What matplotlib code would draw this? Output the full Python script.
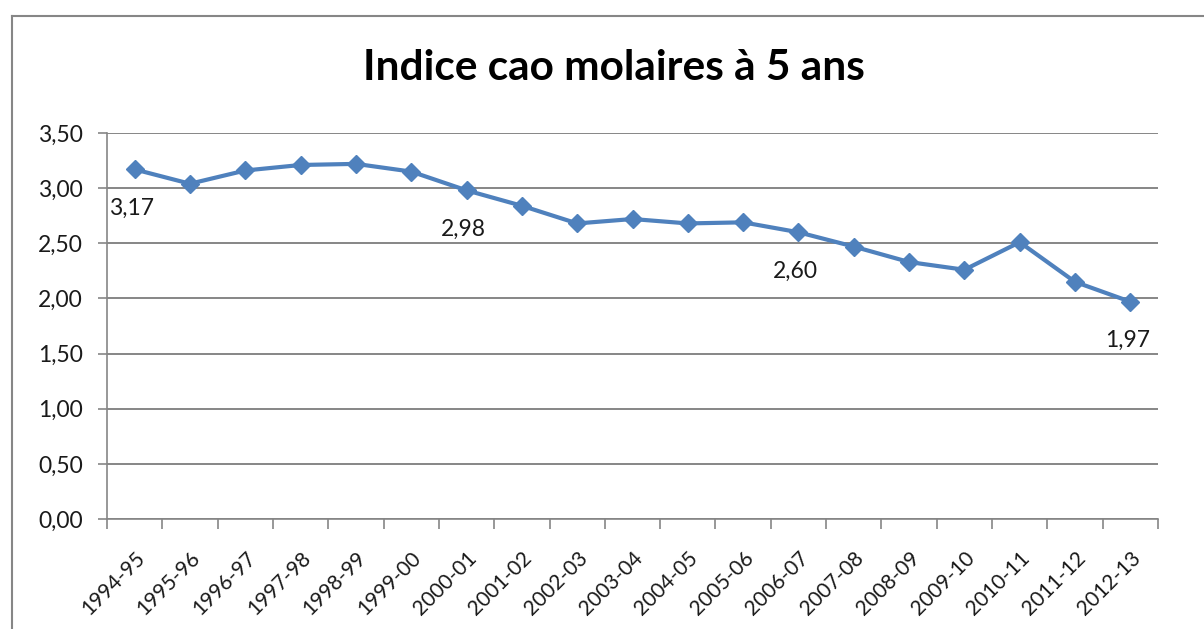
import numpy as np
import matplotlib.pyplot as plt
from matplotlib.lines import Line2D

plt.rcParams['font.family'] = ['Lato', 'DejaVu Sans']

saisons = ['1994-95', '1995-96', '1996-97', '1997-98', '1998-99', '1999-00',
           '2000-01', '2001-02', '2002-03', '2003-04', '2004-05', '2005-06',
           '2006-07', '2007-08', '2008-09', '2009-10', '2010-11', '2011-12',
           '2012-13']
indice = [3.17, 3.04, 3.16, 3.21, 3.22, 3.15, 2.98, 2.84, 2.68, 2.72, 2.68,
          2.69, 2.60, 2.47, 2.33, 2.26, 2.51, 2.15, 1.97]
etiquettes = [0, 6, 12, 18]  # points with a data label
y_ticks = [0.0, 0.5, 1.0, 1.5, 2.0, 2.5, 3.0, 3.5]

bleu = '#4F81BD'
gris = '#868686'

fig = plt.figure(figsize=(12.04, 6.29), dpi=100)
ax = fig.add_axes([107 / 1204, 1 - 519 / 629, (1158 - 107) / 1204, (519 - 133) / 629])

x = np.arange(len(saisons))
ax.plot(x, indice, color=bleu, lw=3, marker='D', ms=9, mec=bleu, mfc=bleu, zorder=3)

for i in etiquettes:
    ax.annotate(f'{indice[i]:.2f}'.replace('.', ','), (x[i], indice[i]),
                xytext=(-2, -28), textcoords='offset points',
                ha='center', va='center', fontsize=16.5, color='#1a1a1a')

ax.set_xlim(-0.5, len(saisons) - 0.5)
ax.set_ylim(0, 3.5)
ax.set_yticks(y_ticks)
ax.set_yticklabels([f'{v:.2f}'.replace('.', ',') for v in y_ticks], fontsize=16.5,
                   color='#1a1a1a')
ax.yaxis.grid(True, color=gris, lw=1.4)
ax.set_axisbelow(True)

ax.set_xticks(x)
ax.set_xticklabels(saisons, rotation=45, ha='right', rotation_mode='anchor',
                   fontsize=15, color='#1a1a1a')
ax.tick_params(axis='x', length=0, pad=21)
ax.set_xticks(np.arange(-0.5, len(saisons)), minor=True)
ax.tick_params(axis='x', which='minor', length=7, color=gris, width=1.2)
ax.tick_params(axis='y', length=6.5, color=gris, width=1.2, pad=11)

for s in ['top', 'right']:
    ax.spines[s].set_visible(False)
for s in ['left', 'bottom']:
    ax.spines[s].set_color(gris)
    ax.spines[s].set_linewidth(1.2)

fig.text(614 / 1204, 1 - 68 / 629, 'Indice cao molaires à 5 ans',
         ha='center', va='center', fontsize=30.5, fontweight='bold')

# cadre du graphique
fig.add_artist(Line2D([12 / 1204, 12 / 1204], [0, 1 - 16 / 629], color=gris, lw=1.5,
                      transform=fig.transFigure))
fig.add_artist(Line2D([12 / 1204, 1], [1 - 16 / 629, 1 - 16 / 629], color=gris, lw=1.5,
                      transform=fig.transFigure))

fig.savefig('out.png', dpi=100)
